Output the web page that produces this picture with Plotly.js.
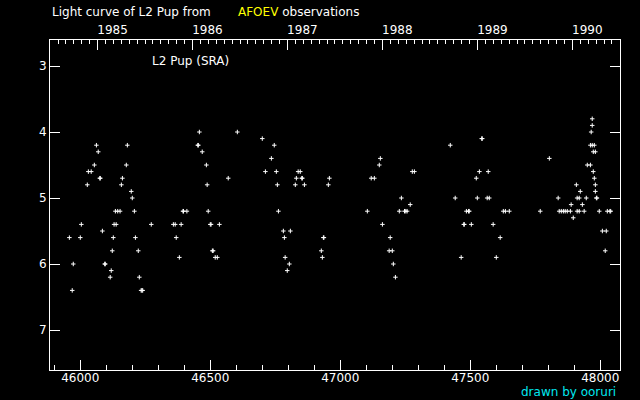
<!DOCTYPE html>
<html>
<head>
<meta charset="utf-8">
<script src="https://cdn.plot.ly/plotly-3.0.1.min.js"></script>
<style>
html,body{margin:0;padding:0;background:#000;}
#chart{width:640px;height:400px;}
</style>
</head>
<body>
<div id="chart"></div>
<script>
// Julian Date - 2400000
const jd = [
45958,45969,45973,46000,46004,46027,46031,46042,46054,46062,46069,46075,46077,46085,46094,46096,
46115,46119,46123,46127,46130,46135,46138,46144,46153,46158,46162,46177,46181,46196,46200,46208,
46212,46223,46227,46234,46237,46240,46273,46358,46365,46369,46381,46388,46395,46397,46410,46452,
46454,46458,46469,46485,46488,46492,46500,46503,46508,46511,46519,46527,46535,46569,46604,
46700,46712,46735,46746,46754,46758,46762,46781,46785,46788,46796,46804,46808,46827,46831,46838,
46846,46852,46854,46862,46927,46931,46935,46937,46954,46958,
47104,47119,47131,47150,47154,47162,47188,47192,47200,47204,47212,47227,47235,47247,47252,47257,
47269,47277,47285,
47423,47442,47465,47475,47477,47485,47493,47496,47504,47523,47527,47535,47544,47546,47565,47569,
47573,47588,47600,47615,47627,47635,47650,47769,47804,47838,47842,47850,47858,47865,47873,47885,
47888,47896,47908,47911,47911,47919,47919,47923,47931,47938,47946,47950,47962,47962,47965,47969,
47969,47969,47973,47973,47977,47977,47981,47981,47981,47985,47987,47996,48008,48019,48023,48027,
48037,48040
];
// visual magnitude
const mag = [
5.6,6.4,6.0,5.6,5.4,4.8,4.6,4.6,4.5,4.2,4.3,4.7,4.7,5.5,6.0,6.0,
6.2,6.1,5.8,5.6,5.4,5.2,5.4,5.2,5.2,4.8,4.7,4.5,4.2,4.9,5.0,5.2,
5.6,5.8,6.2,6.4,6.4,6.4,5.4,5.4,5.4,5.6,5.9,5.4,5.2,5.2,5.2,4.2,
4.2,4.0,4.3,4.5,4.8,5.2,5.4,5.4,5.8,5.8,5.9,5.9,5.4,4.7,4.0,
4.1,4.6,4.4,4.2,4.6,4.8,5.2,5.5,5.6,5.9,6.1,6.0,5.5,4.8,4.7,4.6,
4.6,4.7,4.7,4.8,5.8,5.9,5.6,5.6,4.8,4.7,
5.2,4.7,4.7,4.5,4.4,5.4,5.8,5.6,5.8,6.0,6.2,5.2,5.0,5.2,5.2,5.2,
5.1,4.6,4.6,
4.2,5.0,5.9,5.4,5.4,5.2,5.2,5.2,5.4,4.7,5.0,4.6,4.1,4.1,5.0,4.6,
5.0,5.4,5.9,5.6,5.2,5.2,5.2,5.2,4.4,5.0,5.2,5.2,5.2,5.2,5.2,5.2,
5.1,5.3,4.8,5.0,5.2,5.0,5.2,4.9,5.1,5.2,5.0,4.5,4.5,4.2,4.0,3.8,
3.9,4.2,4.3,4.6,4.2,4.7,4.3,4.8,4.9,5.0,5.0,5.2,5.5,5.8,5.5,5.2,
5.2,5.2
];
// top axis: years and their JD (Jan 1)
const yearLabels = ["1985","1986","1987","1988","1989","1990"];
const yearJD = [46066.5,46431.5,46796.5,47161.5,47527.5,47892.5];
const magTicks = [3,4,5,6,7];

const W = 640, H = 400, L = 50, R = 20, T = 40, B = 30;
const pw = W - L - R, ph = H - T - B;
const px2x = p => (p - L) / pw;
const py2y = p => (H - B - p) / ph;

const xRange = [45883.5, 48075.8];
const font = {family: "DejaVu Sans", size: 12, color: "#ffffff"};

const traces = [
  {
    x: jd, y: mag, type: "scatter", mode: "markers",
    marker: {symbol: "cross-thin", size: 3.2, color: "#ffffff", line: {color: "#ffffff", width: 1}},
    hoverinfo: "skip", showlegend: false
  },
  {
    x: [], y: [], xaxis: "x2", yaxis: "y", type: "scatter", mode: "markers",
    hoverinfo: "skip", showlegend: false
  }
];

const layout = {
  width: W, height: H,
  margin: {l: L, r: R, t: T, b: B, pad: 0},
  paper_bgcolor: "#000000", plot_bgcolor: "#000000",
  font: font,
  showlegend: false,
  xaxis: {
    range: xRange, showgrid: false, zeroline: false,
    showline: true, linecolor: "#ffffff", linewidth: 1,
    ticks: "inside", ticklen: 10, tickwidth: 1, tickcolor: "#ffffff",
    tick0: 0, dtick: 500, tickformat: "d",
    ticklabelstandoff: -3,
    minor: {ticks: "inside", ticklen: 5, tickwidth: 1, tickcolor: "#ffffff", tick0: 0, dtick: 100, showgrid: false},
    tickfont: font
  },
  xaxis2: {
    overlaying: "x", side: "top", anchor: "y",
    range: xRange, showgrid: false, zeroline: false,
    showline: true, linecolor: "#ffffff", linewidth: 1,
    ticks: "inside", ticklen: 10, tickwidth: 1, tickcolor: "#ffffff",
    tickmode: "array", tickvals: yearJD, ticktext: yearLabels,
    ticklabelshift: 15,
    minor: {ticks: "inside", ticklen: 4, tickwidth: 1, tickcolor: "#ffffff", tick0: 46066.5, dtick: 365.25/12, showgrid: false},
    tickfont: font
  },
  yaxis: {
    range: [7.606, 2.606], showgrid: false, zeroline: false,
    showline: true, linecolor: "#ffffff", linewidth: 1, mirror: "ticks",
    ticks: "inside", ticklen: 10, tickwidth: 1, tickcolor: "#ffffff",
    tickmode: "array", tickvals: magTicks,
    tickfont: font
  },
  annotations: [
    {xref: "paper", yref: "paper", x: px2x(50), y: py2y(12), xanchor: "left", yanchor: "middle",
     text: "Light curve of L2 Pup from", showarrow: false, font: font},
    {xref: "paper", yref: "paper", x: px2x(236), y: py2y(12), xanchor: "left", yanchor: "middle",
     text: "<span style='color:#ffff00'>AFOEV</span> observations", showarrow: false, font: font},
    {xref: "paper", yref: "paper", x: px2x(150), y: py2y(61), xanchor: "left", yanchor: "middle",
     text: "L2 Pup (SRA)", showarrow: false, font: font},
    {xref: "paper", yref: "paper", x: px2x(618), y: py2y(392), xanchor: "right", yanchor: "middle",
     text: "drawn by ooruri", showarrow: false, font: {family: "DejaVu Sans", size: 12, color: "#00e8f0"}}
  ]
};

Plotly.newPlot("chart", traces, layout, {displayModeBar: false, staticPlot: true});
</script>
</body>
</html>
